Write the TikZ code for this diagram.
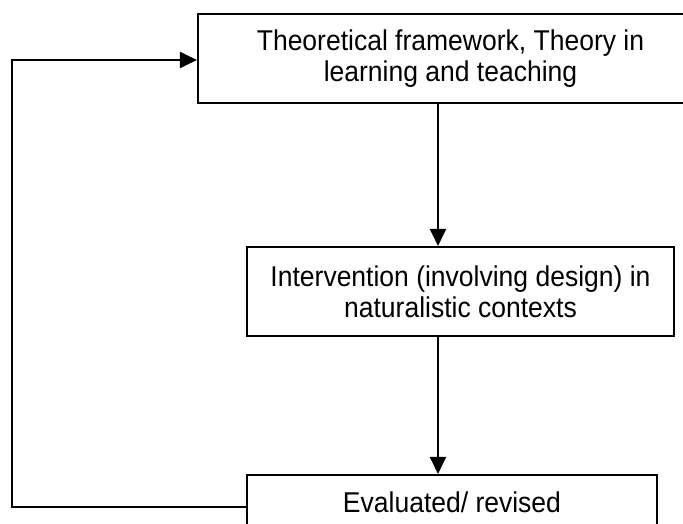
\documentclass[tikz,border=0pt]{standalone}
\usepackage{fontspec}
\setmainfont{Liberation Sans}
\usetikzlibrary{arrows.meta}
\newcommand{\tallline}[1]{\scalebox{1}[1.08]{#1}}
\begin{document}
\begin{tikzpicture}[x=1pt,y=-1pt,
  stagebox/.style={draw=black, line width=2.1pt, rectangle, inner sep=0pt,
    align=center, font=\fontsize{26.5}{31}\selectfont},
  flow/.style={draw=black, line width=2.2pt},
  flowarrow/.style={flow, -{Triangle[length=17pt,width=16pt]}}]
  \clip (0,0) rectangle (683,524);
  \fill[white] (0,0) rectangle (683,524);

  % the three stages of the cycle
  \node[stagebox, minimum width=505pt, minimum height=88.7pt] (theory)
    at (450.5,58.4) {\tallline{Theoretical framework, Theory in}\\\tallline{learning and teaching}};
  \node[stagebox, minimum width=427pt, minimum height=89pt] (intervention)
    at (460.5,291.5) {\tallline{Intervention (involving design) in}\\\tallline{naturalistic contexts}};
  \node[stagebox, minimum width=410pt, minimum height=54pt] (evaluated)
    at (452,502) {\tallline{Evaluated/ revised}};

  % downward flow
  \coordinate (spine) at (438,0);
  \draw[flowarrow] (theory.south -| spine) -- (intervention.north -| spine);
  \draw[flowarrow] (intervention.south -| spine) -- (evaluated.north -| spine);

  % feedback loop back to the theory
  \coordinate (rail) at (12,0);
  \path ([yshift=-5pt]evaluated.west) coordinate (fbstart)
        ([yshift=-1.6pt]theory.west) coordinate (fbend);
  \draw[flowarrow] (fbstart) -- (fbstart -| rail) -- (fbend -| rail) -- (fbend);
\end{tikzpicture}
\end{document}
